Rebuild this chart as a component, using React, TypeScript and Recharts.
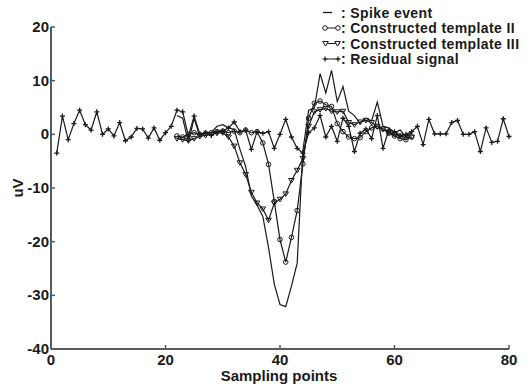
import { LineChart, Line, XAxis, YAxis } from "recharts";

const xTicks = [0, 20, 40, 60, 80];
const yTicks = [-40, -30, -20, -10, 0, 10, 20];

// residual signal, samples 1..80
const residual = [
  -3.5, 3.4, -1.0, 2.0, 4.5, 1.8, 0.8, 4.2, 0.0, 1.0,
  -0.3, 2.2, -1.2, -0.5, 1.1, 1.0, -0.7, 1.2, -1.1, 0.3,
  1.5, 4.5, 4.2, -0.3, 3.4, 0.0, 0.3, -0.2, 0.5, 0.6,
  1.2, 2.3, 0.5, 0.8, -2.8, 0.5, 0.2, 0.5, -2.6, 0.0,
  2.8, -0.5, -2.6, -3.5, 0.3, 1.2, 3.5, -0.5, 1.5, -1.3,
  3.0, 1.5, -3.2, 0.2, 1.0, -0.8, 3.5, -2.6, 0.8, 0.5,
  -0.3, 0.0, 0.5, 1.5, -1.9, 2.8, 0.1, 0.1, 0.1, 2.2,
  2.6, 0.0, 0.0, 0.5, -3.2, 1.2, -1.5, -1.3, 2.9, -0.4,
];

// spike window, samples 22..63
const windowStart = 22;
const spikeEvent = [
  3.5, 3.0, -1.5, 3.0, -0.4, 0.3, 0.3, 1.5, 1.8, 1.2,
  0.9, -2.8, -6.0, -11.5, -13.2, -15.3, -21.1, -27.9, -31.7, -32.1,
  -28.3, -24.0, -3.0, 4.5, 4.9, 11.3, 7.7, 11.9, 6.1, 8.9,
  4.3, 3.5, 2.0, 3.0, 2.5, 6.0, 1.5, 1.2, 0.3, 0.8,
  -0.5, 0.3,
];
const templateII = [
  -0.3, -0.5, 0.0, 0.3, 0.0, 0.2, 0.3, 0.5, 0.6, 0.3,
  0.6, 0.3, 0.8, 0.3, 0.5, -1.6, -5.6, -12.5, -19.6, -23.8,
  -19.2, -14.2, -5.5, 3.0, 5.8, 6.2, 5.5, 5.2, 2.0, 0.5,
  -0.5, -0.8, -0.6, 0.5, 1.2, 1.5, 1.0, 0.2, -0.3, -0.8,
  -1.0, -0.5,
];
const templateIII = [
  -0.8, -1.0, -1.2, -0.8, -0.4, -0.2, 0.0, 0.2, 0.3, -0.5,
  -2.2, -5.3, -7.5, -10.8, -12.8, -13.9, -16.0, -12.8, -12.1, -11.1,
  -8.6, -6.7, -4.5, 1.5, 4.2, 4.6, 4.8, 4.3, 4.2, 4.3,
  2.2, 1.8, 2.3, 2.6, 2.2, 1.4, 1.0, 0.4, 0.0, -0.3,
  -0.6, -0.5,
];

const data = residual.map((r, i) => {
  const x = i + 1;
  const k = x - windowStart;
  const inWin = k >= 0 && k < spikeEvent.length;
  return {
    x,
    residual: r,
    spike: inWin ? spikeEvent[k] : null,
    t2: inWin ? templateII[k] : null,
    t3: inWin ? templateIII[k] : null,
  };
});

const INK = "#1a1a1a";
const AXIS = "#5a5a5a";
const FONT = "'Liberation Sans', Arial, sans-serif";

const circleDot = (p: any) => {
  if (p.cy == null || p.value == null) return <g key={p.key} />;
  return <circle key={p.key} cx={p.cx} cy={p.cy} r={2.3} fill="none" stroke={INK} strokeWidth={1} />;
};

const triPath = (cx: number, cy: number) =>
  `M${cx - 2.8},${cy - 2} L${cx + 2.8},${cy - 2} L${cx},${cy + 2.6} Z`;

const triDot = (p: any) => {
  if (p.cy == null || p.value == null) return <g key={p.key} />;
  return <path key={p.key} d={triPath(p.cx, p.cy)} fill="none" stroke={INK} strokeWidth={1} />;
};

const plusPath = (cx: number, cy: number) =>
  `M${cx - 2.5},${cy} L${cx + 2.5},${cy} M${cx},${cy - 2.5} L${cx},${cy + 2.5}`;

const plusDot = (p: any) => {
  if (p.cy == null || p.value == null) return <g key={p.key} />;
  return <path key={p.key} d={plusPath(p.cx, p.cy)} stroke={INK} strokeWidth={1.3} />;
};

const XTick = ({ x, y, payload }: any) => (
  <g>
    <line x1={x} y1={y} x2={x} y2={y - 4} stroke={AXIS} strokeWidth={1.5} />
    <text x={x} y={y + 16} textAnchor="middle" fontFamily={FONT} fontWeight="bold" fontSize={15} fill={INK}>
      {payload.value}
    </text>
  </g>
);

const YTick = ({ x, y, payload }: any) => (
  <g>
    <line x1={x} y1={y} x2={x + 4} y2={y} stroke={AXIS} strokeWidth={1.5} />
    <text x={x - 2} y={y + 5} textAnchor="end" fontFamily={FONT} fontWeight="bold" fontSize={15} fill={INK}>
      {payload.value}
    </text>
  </g>
);

const legendRows = [
  { label: ": Spike event", kind: "plain" },
  { label: ": Constructed template II", kind: "circle" },
  { label: ": Constructed template III", kind: "tri" },
  { label: ": Residual signal", kind: "plus" },
];

function LegendOverlay() {
  const x0 = 323;
  const x1 = 340;
  return (
    <svg width={529} height={387} style={{ position: "absolute", left: 0, top: 0, pointerEvents: "none" }}>
      {legendRows.map((row, i) => {
        const cy = 12.5 + i * 15.5;
        return (
          <g key={row.label}>
            {row.kind === "plain" ? (
              <line x1={x0} y1={cy} x2={x0 + 9} y2={cy} stroke={INK} strokeWidth={1.3} />
            ) : (
              <line x1={x0 + 1} y1={cy} x2={x1} y2={cy} stroke={INK} strokeWidth={1} />
            )}
            {row.kind === "circle" && (
              <>
                <circle cx={x0 + 2} cy={cy} r={2.3} fill="white" stroke={INK} />
                <circle cx={x1 - 2} cy={cy} r={2.3} fill="white" stroke={INK} />
              </>
            )}
            {row.kind === "tri" && (
              <>
                <path d={triPath(x0 + 2.5, cy)} fill="white" stroke={INK} />
                <path d={triPath(x1 - 2.5, cy)} fill="white" stroke={INK} />
              </>
            )}
            {row.kind === "plus" && (
              <>
                <path d={plusPath(x0 + 2, cy)} stroke={INK} strokeWidth={1.2} />
                <path d={plusPath(x1 - 2, cy)} stroke={INK} strokeWidth={1.2} />
              </>
            )}
            <text
              x={x1 + 1}
              y={cy + 5}
              fontFamily={FONT}
              fontWeight="bold"
              fontSize={14}
              letterSpacing={0.4}
              fill={INK}
            >
              {row.label}
            </text>
          </g>
        );
      })}
      <text
        transform="translate(23,188) rotate(-90)"
        textAnchor="middle"
        fontFamily={FONT}
        fontWeight="bold"
        fontSize={15}
        fill={INK}
      >
        uV
      </text>
      <text x={279} y={381} textAnchor="middle" fontFamily={FONT} fontWeight="bold" fontSize={15} fill={INK}>
        Sampling points
      </text>
    </svg>
  );
}

export default function App() {
  return (
    <div style={{ position: "absolute", left: 0, top: 0, width: 529, height: 387, background: "#fff" }}>
      <LineChart width={529} height={387} data={data} margin={{ top: 27, right: 20, left: 0, bottom: 0 }}>
        <XAxis
          dataKey="x"
          type="number"
          domain={[0, 80]}
          ticks={xTicks}
          height={38}
          tickSize={0}
          tickMargin={0}
          tick={<XTick />}
          axisLine={{ stroke: AXIS, strokeWidth: 2 }}
          tickLine={false}
        />
        <YAxis
          type="number"
          domain={[-40, 20]}
          ticks={yTicks}
          width={51}
          tickSize={0}
          tickMargin={0}
          tick={<YTick />}
          axisLine={{ stroke: AXIS, strokeWidth: 2 }}
          tickLine={false}
        />
        <Line dataKey="spike" type="linear" stroke={INK} strokeWidth={1.2} dot={false} isAnimationActive={false} />
        <Line dataKey="t3" type="linear" stroke={INK} strokeWidth={1.2} dot={triDot} isAnimationActive={false} />
        <Line dataKey="t2" type="linear" stroke={INK} strokeWidth={1.2} dot={circleDot} isAnimationActive={false} />
        <Line dataKey="residual" type="linear" stroke={INK} strokeWidth={1.2} dot={plusDot} isAnimationActive={false} />
      </LineChart>
      <LegendOverlay />
    </div>
  );
}
